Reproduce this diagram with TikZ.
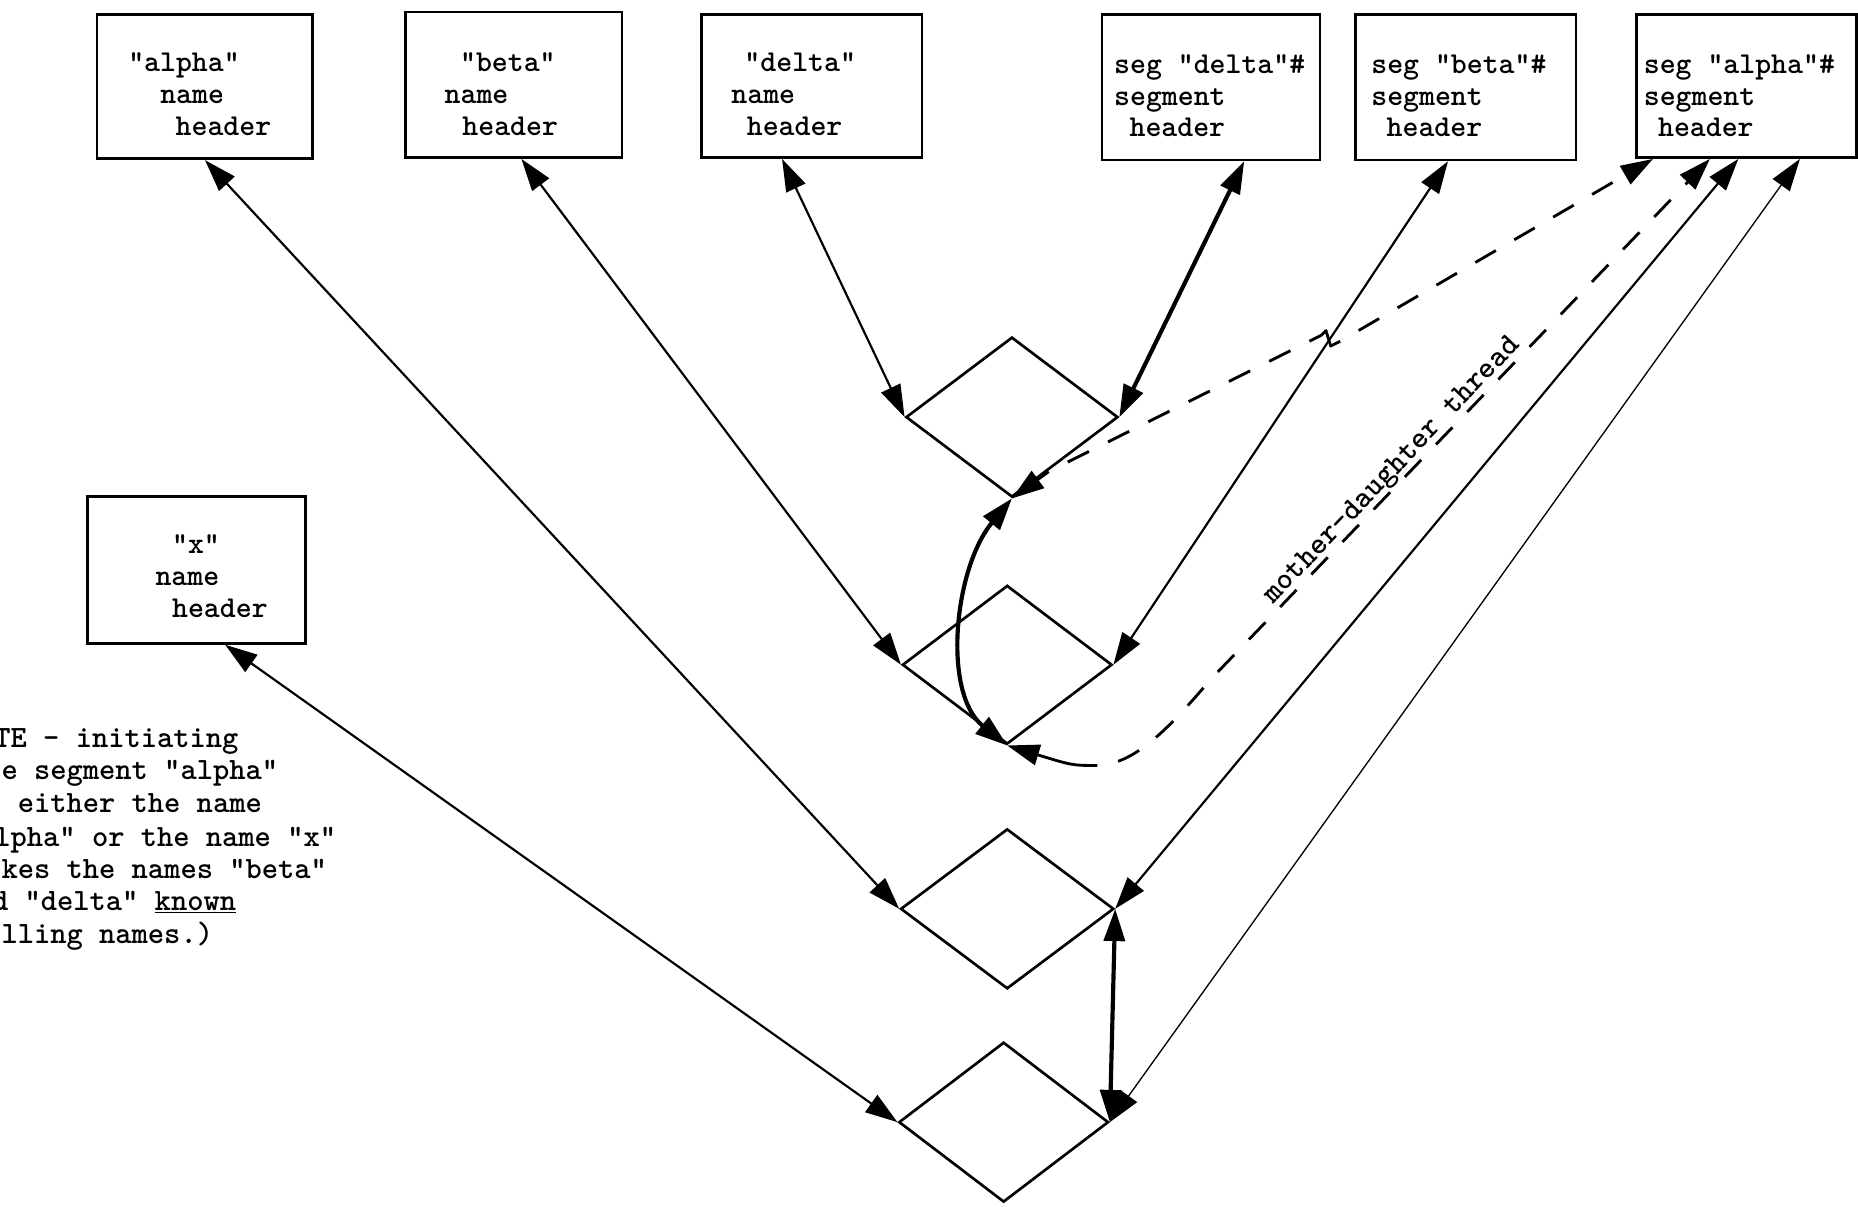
\documentclass[tikz,border=0pt]{standalone}
\usepackage{fontspec}
\usetikzlibrary{shapes.geometric,arrows.meta}
\newcommand\boxfont{\fontsize{18.2}{20}\selectfont\ttfamily\bfseries}
\newcommand\notefont{\fontsize{18.6}{21}\selectfont\ttfamily\bfseries}
\begin{document}
\begin{tikzpicture}[x=0.025cm,y=-0.025cm,
  >={Triangle[length=0.68cm,width=0.44cm]},
  box/.style 2 args={draw,line width=1.6pt,minimum width=#1*0.025cm,minimum height=#2*0.025cm,inner sep=0pt},
  dia/.style 2 args={draw,shape=diamond,line width=1.6pt,minimum width=#1*0.025cm,minimum height=#2*0.025cm,inner sep=0pt},
  txt/.style={anchor=base west,inner sep=0pt,font=\boxfont},
  note/.style={anchor=base west,inner sep=0pt,font=\notefont},
  link/.style={<->,line width=1.3pt},
  heavy/.style={<->,line width=2.5pt},
  light/.style={<->,line width=0.8pt},
  solidbit/.style={line width=1.7pt},
  thread/.style={line width=1.7pt,dash pattern=on 0.5cm off 0.45cm,dash phase=0.5cm},
]
\path[fill=white,use as bounding box] (0,0) rectangle (1568,1018);

% boxes
\node[box={182}{122}] (alpha) at (173,73) {};
\node[box={183}{123}] (beta) at (433.5,71.5) {};
\node[box={186}{121}] (delta) at (685,72.5) {};
\node[box={184}{123}] (segd) at (1022,73.5) {};
\node[box={186}{123}] (segb) at (1237,73.5) {};
\node[box={186}{121}] (sega) at (1474,72.5) {};
\node[box={184}{124}] (xname) at (166,481) {};

% box texts
\node[txt] (a1) at (108,60) {"alpha"};
\node[txt] (a2) at (135,87) {name};
\node[txt] (a3) at (148,114) {header};
\node[txt] (b1) at (388,60) {"beta"};
\node[txt] (b2) at (375,87) {name};
\node[txt] (b3) at (390,114) {header};
\node[txt] (d1) at (628,60) {"delta"};
\node[txt] (d2) at (617,87) {name};
\node[txt] (d3) at (630,114) {header};
\node[txt] (sd1) at (940,62) {seg "delta"\#};
\node[txt] (sd2) at (940,89) {segment};
\node[txt] (sd3) at (953,115) {header};
\node[txt] (sb1) at (1157,62) {seg "beta"\#};
\node[txt] (sb2) at (1157,89) {segment};
\node[txt] (sb3) at (1170,115) {header};
\node[txt] (sa1) at (1387,62) {seg "alpha"\#};
\node[txt] (sa2) at (1387,89) {segment};
\node[txt] (sa3) at (1399,115) {header};
\node[txt] (x1) at (145,467) {"x"};
\node[txt] (x2) at (131,494) {name};
\node[txt] (x3) at (145,521) {header};

% note (cut off at the left edge, as in the reference)
\node[note] (n1) at (-5,631) {TE - initiating};
\node[note] (n2) at (1,658) {e segment "alpha"};
\node[note] (n3) at (1,686) {\phantom{e}either the name};
\node[note] (n4) at (-5,714) {lpha" or the name "x"};
\node[note] (n5) at (1,741) {kes the names "beta"};
\node[note] (n6) at (-7,768) {d "delta" \underline{known}};
\node[note] (n7) at (1,796) {lling names.)};

% diamonds
\node[dia={179}{135}] (D1) at (854,352) {};
\node[dia={177}{134}] (D2) at (850,561) {};
\node[dia={180}{135}] (D3) at (850,767) {};
\node[dia={177}{135}] (D4) at (847,947) {};

% connectors
\draw[link] (alpha.south) -- (D3.west);
\draw[link] ([xshift=0.1625cm]beta.south) -- (D2.west);
\draw[link] ([xshift=-0.625cm]delta.south) -- (D1.west);
\draw[heavy] ([xshift=0.7cm]segd.south) -- (D1.east);
\draw[link] ([xshift=-0.375cm]segb.south) -- (D2.east);
\draw[link] ([xshift=-0.175cm]sega.south) -- (D3.east);
\draw[light] ([xshift=1.125cm]sega.south) -- (D4.east);
\draw[link] ([xshift=0.6cm]xname.south) -- (D4.west);
\draw[heavy] (D3.east) -- (D4.east);
\draw[heavy] (D1.south) .. controls (805,480) and (795,585) .. (D2.south);

% first dashed thread (with jumper)
\coordinate (t1a) at (885,398);
\coordinate (h1) at (1115,283);
\coordinate (h2) at (1119,279);
\coordinate (h3) at (1123,292);
\coordinate (h4) at (1131,288);
\draw[solidbit,->] (t1a) -- (D1.south);
\draw[thread] (t1a) -- (h1);
\draw[solidbit,line join=round] (h1) -- (h2) -- (h3) -- (h4);
\draw[thread,->] (h4) -- ([xshift=-1.975cm]sega.south);

% mother-daughter thread
\coordinate (t2b) at (926,646);
\coordinate (t2c) at (1023,572);
\draw[solidbit,->] (t2b) .. controls (905,646) .. (D2.south);
\draw[thread,->] (t2b) .. controls (960,645) and (990,610) .. (t2c) -- ([xshift=-0.775cm]sega.south);
\node[font=\notefont,rotate=46.3,anchor=base,inner sep=0pt] (lbl) at (1179,401) {mother-daughter thread};
\end{tikzpicture}
\end{document}
